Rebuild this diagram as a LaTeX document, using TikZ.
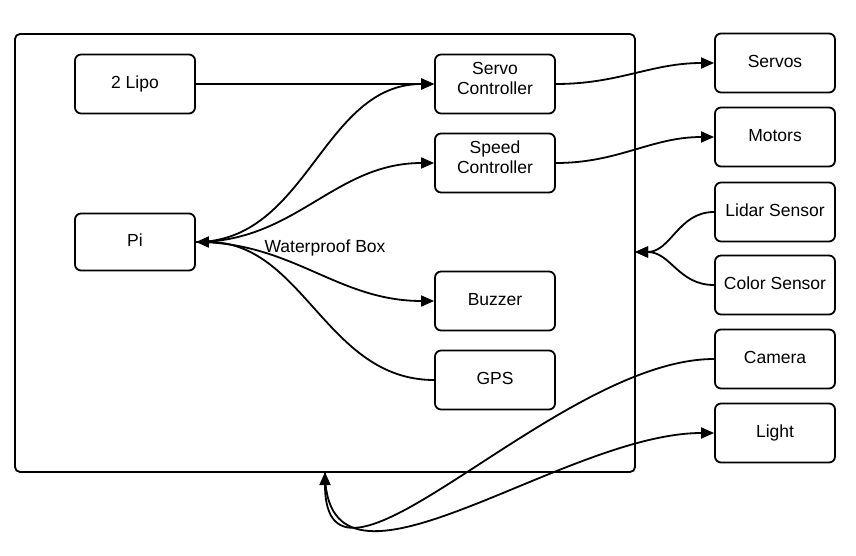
\documentclass[tikz,border=0pt]{standalone}
\usepackage{fontspec}
\setmainfont{Liberation Sans}
\usepackage{tikz}
\usetikzlibrary{arrows.meta}

\begin{document}
\begin{tikzpicture}[x=1pt, y=-1pt]
  \tikzset{part/.style={rectangle, draw=black, line width=1.8pt, rounded corners=6pt,
                        minimum width=120pt, minimum height=59pt, align=center,
                        text depth=4pt, font=\fontsize{17.5}{20}\selectfont}}
  \tikzset{twoline/.style={part, text depth=12pt}}
  \tikzset{wire/.style={draw=black, line width=1.8pt,
                        -{Triangle[length=13pt, width=11pt]}}}
  \useasboundingbox (0,0) rectangle (856,556);

  % Waterproof box outline
  \draw[line width=1.8pt, rounded corners=5pt] (15,34) rectangle (635,472);
  \node[font=\fontsize{17.5}{22}\selectfont] (boxlabel) at (325,248) {Waterproof Box};
  \coordinate (boxside) at (635,252);
  \coordinate (boxfoot) at (325,472);

  % Parts inside the box
  \node[part] (lipo)  at (135,84)  {2 Lipo};
  \node[part, minimum height=57pt] (pi) at (135,242) {Pi};
  \node[twoline] (servoctl) at (495,84)  {Servo\\Controller};
  \node[twoline] (speedctl) at (495,163) {Speed\\Controller};
  \node[part] (buzzer)   at (495,301) {Buzzer};
  \node[part] (gps)      at (495,380) {GPS};

  % Parts outside the box
  \node[part] (servos) at (775,63)  {Servos};
  \node[part] (motors) at (775,137) {Motors};
  \node[part] (lidar)  at (775,212) {Lidar Sensor};
  \node[part] (color)  at (775,285) {Color Sensor};
  \node[part] (camera) at (775,359) {Camera};
  \node[part] (light)  at (775,433) {Light};

  % Power and control
  \draw[wire] (lipo.east) -- (servoctl.west);
  \draw[wire] (pi.east) .. controls +(112,0) and +(-112,0) .. (servoctl.west);
  \draw[wire] (pi.east) .. controls +(100,0) and +(-100,0) .. (speedctl.west);
  \draw[wire] (pi.east) .. controls +(97,0) and +(-97,0) .. (buzzer.west);
  \draw[wire] (gps.west) .. controls +(-108,0) and +(108,0) .. (pi.east);
  \draw[wire] (servoctl.east) .. controls +(63,0) and +(-63,0) .. (servos.west);
  \draw[wire] (speedctl.east) .. controls +(63,0) and +(-63,0) .. (motors.west);

  % Sensors into the box
  \draw[wire] (lidar.west) .. controls +(-36,0) and +(36,0) .. (boxside);
  \draw[wire] (color.west) .. controls +(-36,0) and +(36,0) .. (boxside);

  % Camera and light through the bottom
  \draw[wire] (camera.west) .. controls +(-159,0) and +(0,159) .. (boxfoot);
  \draw[wire] (boxfoot) .. controls +(0,153) and +(-153,0) .. (light.west);
\end{tikzpicture}
\end{document}
